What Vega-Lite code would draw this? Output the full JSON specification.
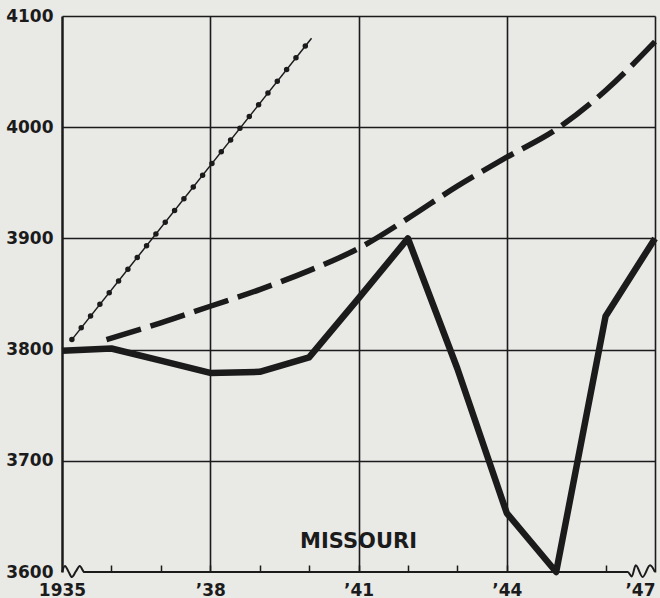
{
  "$schema": "https://vega.github.io/schema/vega-lite/v6.json",
  "width": 593,
  "height": 556,
  "autosize": "none",
  "padding": {"left": 62, "top": 16, "right": 5, "bottom": 26},
  "background": "#e9e9e6",
  "config": {"view": {"stroke": null}, "font": "DejaVu Sans"},
  "data": {
    "values": [
      {"series": "actual", "year": 1935, "value": 3799},
      {"series": "actual", "year": 1936, "value": 3801},
      {"series": "actual", "year": 1937, "value": 3790},
      {"series": "actual", "year": 1938, "value": 3779},
      {"series": "actual", "year": 1939, "value": 3780},
      {"series": "actual", "year": 1940, "value": 3793},
      {"series": "actual", "year": 1941, "value": 3846},
      {"series": "actual", "year": 1942, "value": 3900},
      {"series": "actual", "year": 1943, "value": 3783},
      {"series": "actual", "year": 1944, "value": 3653},
      {"series": "actual", "year": 1945, "value": 3600},
      {"series": "actual", "year": 1946, "value": 3830},
      {"series": "actual", "year": 1947, "value": 3900},
      {"series": "trend", "year": 1935.9, "value": 3809},
      {"series": "trend", "year": 1937, "value": 3824},
      {"series": "trend", "year": 1938, "value": 3839},
      {"series": "trend", "year": 1939, "value": 3854},
      {"series": "trend", "year": 1940, "value": 3871},
      {"series": "trend", "year": 1941, "value": 3891},
      {"series": "trend", "year": 1942, "value": 3918},
      {"series": "trend", "year": 1943, "value": 3947},
      {"series": "trend", "year": 1944, "value": 3973},
      {"series": "trend", "year": 1945, "value": 3998},
      {"series": "trend", "year": 1946, "value": 4033},
      {"series": "trend", "year": 1947, "value": 4077},
      {"series": "proj", "year": 1935.2, "value": 3809},
      {"series": "proj", "year": 1940.05, "value": 4080},
      {"series": "axisline", "year": 1935, "value": 3600},
      {"series": "axisline", "year": 1935.06, "value": 3605.5},
      {"series": "axisline", "year": 1935.13, "value": 3600.5},
      {"series": "axisline", "year": 1935.2, "value": 3595.5},
      {"series": "axisline", "year": 1935.28, "value": 3600.5},
      {"series": "axisline", "year": 1935.36, "value": 3605.5},
      {"series": "axisline", "year": 1935.45, "value": 3600},
      {"series": "axisline", "year": 1946.45, "value": 3600},
      {"series": "axisline", "year": 1946.53, "value": 3596},
      {"series": "axisline", "year": 1946.61, "value": 3606},
      {"series": "axisline", "year": 1946.75, "value": 3595.5},
      {"series": "axisline", "year": 1946.9, "value": 3606},
      {"series": "axisline", "year": 1947, "value": 3600},
      {"series": "label", "year": 1941, "value": 3627, "text": "MISSOURI"}
    ]
  },
  "encoding": {
    "x": {
      "field": "year",
      "type": "quantitative",
      "scale": {"domain": [1935, 1947], "nice": false, "zero": false},
      "axis": {
        "title": null,
        "domain": false,
        "values": [1935, 1936, 1937, 1938, 1939, 1940, 1941, 1942, 1943, 1944, 1945, 1946, 1947],
        "labelExpr": "datum.value == 1935 ? '1935' : (indexof([1938, 1941, 1944, 1947], datum.value) >= 0 ? '\u2019' + substring('' + datum.value, 2, 4) : '')",
        "tickColor": "#1b1b1b",
        "tickWidth": 1.5,
        "tickSize": -7,
        "tickOpacity": {"condition": {"test": "datum.value == 1935 || datum.value == 1947", "value": 0}, "value": 1},
        "labelFont": "DejaVu Sans",
        "labelFontWeight": "bold",
        "labelFontSize": 17,
        "labelColor": "#1b1b1b",
        "labelPadding": 17,
        "labelAlign": {"condition": {"test": "datum.value == 1947", "value": "right"}, "value": "center"},
        "labelOverlap": false,
        "labelBound": false,
        "labelFlush": false,
        "grid": true,
        "gridColor": "#1b1b1b",
        "gridWidth": 1.6,
        "gridOpacity": {"condition": {"test": "indexof([1938, 1941, 1944, 1947], datum.value) >= 0", "value": 1}, "value": 0}
      }
    },
    "y": {
      "field": "value",
      "type": "quantitative",
      "scale": {"domain": [3600, 4100], "nice": false, "zero": false},
      "axis": {
        "title": null,
        "values": [3600, 3700, 3800, 3900, 4000, 4100],
        "format": "d",
        "ticks": false,
        "domainColor": "#1b1b1b",
        "domainWidth": 2.5,
        "labelFont": "DejaVu Sans",
        "labelFontWeight": "bold",
        "labelFontSize": 17,
        "labelColor": "#1b1b1b",
        "labelPadding": 9,
        "labelOverlap": false,
        "labelBound": false,
        "grid": true,
        "gridColor": "#1b1b1b",
        "gridWidth": 1.6,
        "gridOpacity": {"condition": {"test": "datum.value == 3600", "value": 0}, "value": 1}
      }
    }
  },
  "layer": [
    {
      "transform": [{"filter": "datum.series === 'axisline'"}],
      "mark": {"type": "line", "color": "#1b1b1b", "strokeWidth": 2, "interpolate": "monotone"}
    },
    {
      "transform": [{"filter": "datum.series === 'proj'"}],
      "mark": {"type": "line", "color": "#1b1b1b", "strokeWidth": 1.5}
    },
    {
      "transform": [{"filter": "datum.series === 'proj'"}],
      "mark": {"type": "line", "color": "#1b1b1b", "strokeWidth": 5.5, "strokeCap": "round", "strokeDash": [0, 15]}
    },
    {
      "transform": [{"filter": "datum.series === 'trend'"}],
      "mark": {"type": "line", "color": "#1b1b1b", "strokeWidth": 5.5, "strokeDash": [36, 10], "interpolate": "monotone"}
    },
    {
      "transform": [{"filter": "datum.series === 'actual'"}],
      "mark": {"type": "line", "color": "#1b1b1b", "strokeWidth": 6.5, "strokeJoin": "round", "strokeCap": "butt"}
    },
    {
      "transform": [{"filter": "datum.series === 'label'"}],
      "mark": {"type": "text", "color": "#1b1b1b", "font": "DejaVu Sans", "fontWeight": "bold", "fontSize": 21, "align": "center", "baseline": "middle"},
      "encoding": {"text": {"field": "text", "type": "nominal"}}
    }
  ]
}
